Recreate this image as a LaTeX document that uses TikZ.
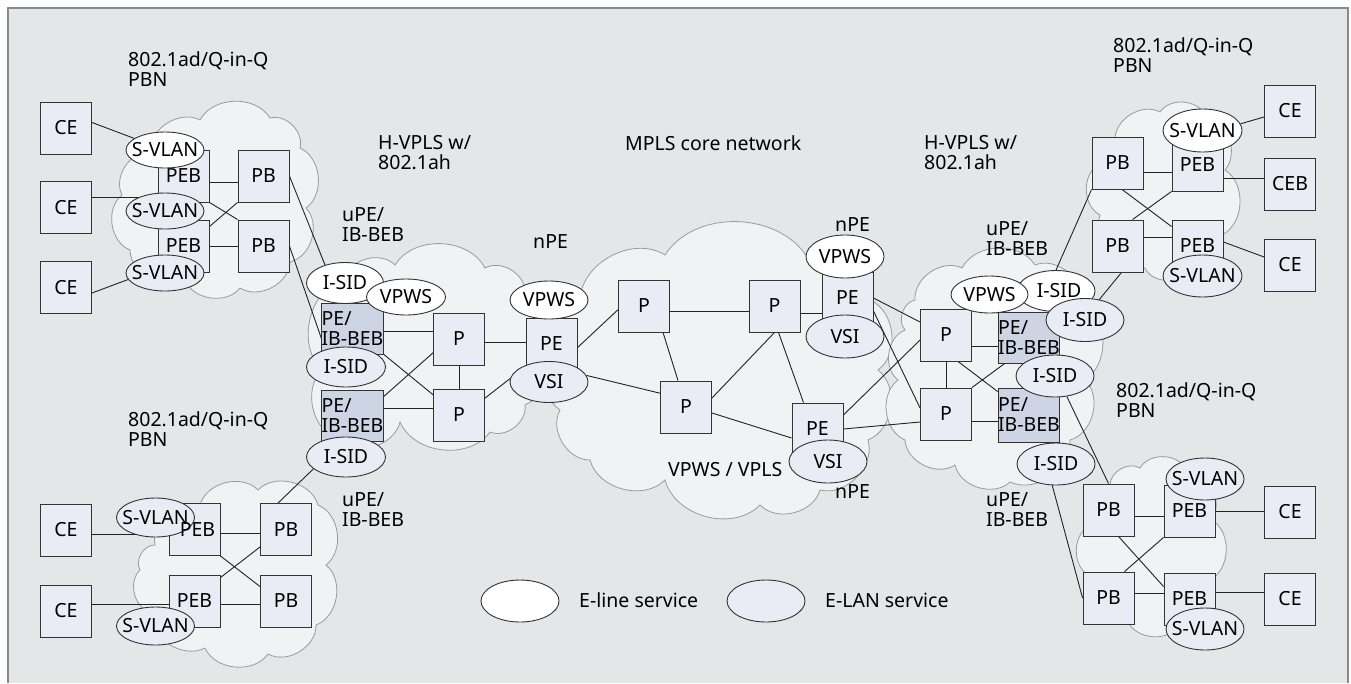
\documentclass[tikz,border=0pt]{standalone}
\usepackage{fontspec}
\setmainfont{Noto Sans}
\usetikzlibrary{shapes.geometric,calc}
\definecolor{bgc}{HTML}{E5E6E8}
\definecolor{cloudc}{HTML}{F1F2F4}
\definecolor{cloudedge}{HTML}{9A9A9A}
\definecolor{boxc}{HTML}{E9ECF4}
\definecolor{bebc}{HTML}{CDD5E4}
\definecolor{edgec}{HTML}{333333}
\definecolor{linec}{HTML}{222222}
\definecolor{framec}{HTML}{8A8A8A}
\pgfdeclarelayer{bg}
\pgfdeclarelayer{fg}
\pgfsetlayers{bg,main,fg}
\newcommand{\zw}[1]{\makebox[0pt]{#1}}
\begin{document}
\begin{tikzpicture}[x=1pt,y=-1pt,
  font=\fontsize{19.5}{20}\selectfont,
  box/.style={rectangle, draw=edgec, line width=0.9pt, fill=boxc, minimum width=51pt, minimum height=52pt, inner sep=0pt},
  beb/.style={box, fill=bebc, minimum width=61pt, minimum height=51pt, align=left},
  eline/.style={ellipse, draw=edgec, line width=0.9pt, fill=white, minimum width=78pt, minimum height=40pt, inner sep=0pt},
  elan/.style={eline, fill=boxc},
  lbl/.style={inner sep=0pt, anchor=west, align=left},
  conn/.style={draw=linec, line width=0.9pt},
  cloudsty/.style={fill=cloudc, draw=cloudedge, line width=0.8pt},
  puff/.style={bend left=60}]
\useasboundingbox (0,0) rectangle (1351,683);
\begin{pgfonlayer}{bg}
\fill[white] (0,0) rectangle (1351,683);
\fill[bgc] (8,8) rectangle (1348,683);
\draw[framec, line width=2pt] (8,683) -- (8,8) -- (1348,8) -- (1348,683);
% clouds
% left top PBN
\path[cloudsty] (150,152) to[puff] (200,120) to[puff] (270,118) to[puff] (300,148) to[puff] (306,208) to[puff] (290,262) to[puff] (240,288) to[puff] (185,280) to[puff] (130,250) to[puff] (122,195) to[puff] (150,152) -- cycle;
% left bottom PBN
\path[cloudsty] (155,545) to[puff] (200,505) to[puff] (258,490) to[puff] (318,505) to[puff] (326,565) to[puff] (316,625) to[puff] (268,654) to[puff] (205,648) to[puff] (150,612) to[puff] (140,570) to[puff] (155,545) -- cycle;
% right top PBN
\path[cloudsty] (1115,140) to[puff] (1160,112) to[puff] (1205,115) to[puff] (1225,170) to[puff] (1222,235) to[puff] (1185,272) to[puff] (1145,268) to[puff] (1100,215) to[puff] (1098,165) to[puff] (1115,140) -- cycle;
% right bottom PBN
\path[cloudsty] (1110,485) to[puff] (1140,468) to[puff] (1185,468) to[puff] (1212,520) to[puff] (1210,580) to[puff] (1180,625) to[puff] (1128,622) to[puff] (1088,575) to[puff] (1090,525) to[puff] (1110,485) -- cycle;
% left H-VPLS
\path[cloudsty] (345,278) to[puff] (395,265) to[puff] (485,268) to[puff] (525,292) to[puff] (532,348) to[puff] (525,405) to[puff] (490,432) to[puff] (400,422) to[puff] (340,440) to[puff] (322,370) to[puff] (345,278) -- cycle;
% core
\path[cloudsty] (580,300) to[puff] (665,255) to[puff] (810,262) to[puff] (870,300) to[puff] (878,370) to[puff] (868,440) to[puff] (820,490) to[puff] (760,505) to[puff] (665,480) to[puff] (590,460) to[puff] (560,410) to[puff] (565,340) to[puff] (580,300) -- cycle;
% right H-VPLS
\path[cloudsty] (915,300) to[puff] (962,268) to[puff] (1035,265) to[puff] (1080,300) to[puff] (1085,380) to[puff] (1070,440) to[puff] (1010,482) to[puff] (955,465) to[puff] (905,440) to[puff] (898,380) to[puff] (905,330) to[puff] (915,300) -- cycle;
\end{pgfonlayer}

% ---- left top PBN
\node[box] (ceA1) at (66,128) {CE};
\node[box] (ceA2) at (66,207.5) {CE};
\node[box] (ceA3) at (66,287.5) {CE};
\node[box] (pebA1) at (183.5,176) {PEB};
\node[box] (pebA2) at (183.5,246) {PEB};
\node[box] (pbA1) at (263.5,176) {PB};
\node[box] (pbA2) at (263.5,246) {PB};
\node[eline, minimum height=36pt] (svA1) at (165,150) {\zw{S-VLAN}};
\node[elan, minimum height=36pt] (svA2) at (165,211) {\zw{S-VLAN}};
\node[elan, minimum height=36pt] (svA3) at (165,273) {\zw{S-VLAN}};
% ---- left bottom PBN
\node[box] (ceB1) at (66,530) {CE};
\node[box] (ceB2) at (66,611) {CE};
\node[box] (pebB1) at (194.5,529.5) {};
\node[box] (pebB2) at (194.5,601) {PEB};
\node[box] (pbB1) at (286,529.5) {PB};
\node[box] (pbB2) at (286,601) {PB};
\node[elan, minimum height=39pt] (svB1) at (155.5,517.5) {\zw{S-VLAN}};
\node[elan, minimum height=38pt] (svB2) at (155.5,626) {\zw{S-VLAN}};
\begin{pgfonlayer}{fg}
\node[inner sep=0pt] (pebB1t) at ([xshift=3pt]pebB1.center) {PEB};
\end{pgfonlayer}
% ---- left H-VPLS
\node[beb] (peibL1) at (352.5,328.5) {PE/\\IB-BEB};
\node[beb] (peibL2) at (352.5,416) {PE/\\IB-BEB};
\node[box] (pL1) at (459,339) {P};
\node[box] (pL2) at (459,415) {P};
\node[box] (peL) at (551.5,344) {PE};
\node[eline, minimum height=41pt, minimum width=77pt] (isidL1) at (345,283) {\zw{I-SID}};
\node[eline, minimum height=36pt, minimum width=79pt] (vpwsL) at (406,297) {\zw{VPWS}};
\node[elan, minimum width=79pt] (isidL2) at (346,367) {\zw{I-SID}};
\node[elan, minimum width=79pt] (isidL3) at (346,457) {\zw{I-SID}};
\node[eline, minimum height=38pt] (vpwsM1) at (549,300) {\zw{VPWS}};
\node[elan, minimum height=41pt] (vsiM1) at (549,382) {\zw{VSI}};
% ---- core
\node[box] (pC1) at (644,306) {P};
\node[box] (pC3) at (774.5,306) {P};
\node[box] (pC2) at (686,407) {P};
\node[box] (peC1) at (847.5,298) {PE};
\node[box] (peC2) at (817.5,429) {PE};
\node[eline, minimum height=43pt] (vpwsC) at (845,256.5) {\zw{VPWS}};
\node[elan, minimum height=43pt] (vsiC1) at (845,336.5) {\zw{VSI}};
\node[elan, minimum height=43pt] (vsiC2) at (828,461.5) {\zw{VSI}};
% ---- right H-VPLS
\node[box] (pR1) at (946,335) {P};
\node[box] (pR2) at (946,414) {P};
\node[beb] (peibR1) at (1029,337.5) {PE/\\IB-BEB};
\node[beb, minimum height=54pt] (peibR2) at (1029,415) {PE/\\IB-BEB};
\node[eline, minimum height=41pt] (isidR1) at (1056,291) {\hspace*{6pt}\zw{I-SID}};
\node[eline, minimum width=77pt, minimum height=37pt] (vpwsR) at (989.5,294.5) {\zw{VPWS}};
\node[elan, minimum height=43pt] (isidR2) at (1085,320) {\zw{I-SID}};
\node[elan, minimum height=42pt] (isidR3) at (1055,376) {\zw{I-SID}};
\node[elan, minimum height=42pt] (isidR4) at (1056,464) {\zw{I-SID}};
% ---- right top PBN
\node[box] (ceRt1) at (1290,111) {CE};
\node[box] (ceb) at (1290,184) {CEB};
\node[box] (ceRt3) at (1290,265) {CE};
\node[box] (pbRt1) at (1117.5,163) {PB};
\node[box] (pbRt2) at (1117.5,246) {PB};
\node[box, minimum height=53pt] (pebRt1) at (1197.5,164.5) {PEB};
\node[box] (pebRt2) at (1197.5,246) {PEB};
\node[eline, minimum width=79pt, minimum height=43pt] (svRt1) at (1202.5,130.5) {\zw{S-VLAN}};
\node[elan, minimum width=79pt, minimum height=42pt] (svRt2) at (1202.5,276) {\zw{S-VLAN}};
% ---- right bottom PBN
\node[box] (pbRb1) at (1108.5,510) {PB};
\node[box] (pbRb2) at (1108.5,598) {PB};
\node[box] (pebRb1) at (1189.5,511) {PEB};
\node[box] (pebRb2) at (1189.5,599) {PEB};
\node[box] (ceRb1) at (1290,512) {CE};
\node[box] (ceRb2) at (1290,599) {CE};
\node[elan, minimum height=42pt] (svRb1) at (1205,479) {\zw{S-VLAN}};
\node[elan, minimum height=42pt] (svRb2) at (1205,629) {\zw{S-VLAN}};
% ---- legend
\node[eline, minimum height=42pt] (legL) at (520,601) {};
\node[lbl] (legLt) at (579,600) {E-line service};
\node[elan, minimum height=42pt] (legE) at (766,601) {};
\node[lbl] (legEt) at (825,600) {E-LAN service};
% ---- labels
\node[lbl] (t1) at (128,69.5) {802.1ad/Q-in-Q\\PBN};
\node[lbl] (t2) at (378,153) {H-VPLS w/\\802.1ah};
\node[lbl] (t3) at (625,143) {MPLS core network};
\node[lbl] (t4) at (342,225) {uPE/\\IB-BEB};
\node[lbl] (t5) at (533,242) {nPE};
\node[lbl] (t6) at (128,429) {802.1ad/Q-in-Q\\PBN};
\node[lbl] (t7) at (342,510) {uPE/\\IB-BEB};
\node[lbl] (t8) at (668,470) {VPWS / VPLS};
\node[lbl] (t9) at (835,225) {nPE};
\node[lbl] (t10) at (835,492) {nPE};
\node[lbl] (t11) at (924,153) {H-VPLS w/\\802.1ah};
\node[lbl] (t12) at (986,238.5) {uPE/\\IB-BEB};
\node[lbl] (t13) at (1113,55) {802.1ad/Q-in-Q\\PBN};
\node[lbl] (t14) at (1116,400) {802.1ad/Q-in-Q\\PBN};
\node[lbl] (t15) at (986,510) {uPE/\\IB-BEB};

\begin{pgfonlayer}{bg}
% left top
\draw[conn] (ceA1.12) -- (svA1);
\draw[conn] (ceA2.22) -- (ceA2.22 -| svA2.center);
\draw[conn] (ceA3.-12) -- (svA3.190);
\draw[conn] ([yshift=-6pt]pebA1.east) -- ([yshift=-6pt]pbA1.west);
\draw[conn] (pebA2) -- (pbA2);
\draw[conn] (pebA1.south east) -- (pbA2.north west);
\draw[conn] ([yshift=-7pt]pebA2.north east) -- (pbA1.south west);
\draw[conn] (pbA1.east) -- (isidL1.138);
\draw[conn] (pbA2.east) -- (isidL2.140);
% left bottom
\draw[conn] ([yshift=-4pt]ceB1.east) -- ([yshift=-4pt]ceB1.east -| pebB1.west);
\draw[conn] ([yshift=7pt]ceB2.east) -- ([yshift=7pt]ceB2.east -| pebB2.west);
\draw[conn] ([yshift=-3.5pt]pebB1.east) -- ([yshift=-3.5pt]pebB1.east -| pbB1.west);
\draw[conn] ([yshift=-3pt]pebB2.east) -- ([yshift=-3pt]pebB2.east -| pbB2.west);
\draw[conn] (pebB1.south east) -- ([yshift=-12pt]pbB2.north west);
\draw[conn] ([yshift=-3pt]pebB2.north east) -- ([yshift=9pt]pbB1.south west);
\draw[conn] ([xshift=-8pt]pbB1.north) -- (isidL3.-160);
% left H-VPLS
\draw[conn] ([yshift=-2.5pt]peibL1.east) -- ([yshift=-2.5pt]peibL1.east -| pL1.west);
\draw[conn] (peibL1.south east) -- (pL2.142);
\draw[conn] (peibL2.32) -- (pL1.208);
\draw[conn] ([yshift=8pt]peibL2.east) -- ([yshift=8pt]peibL2.east -| pL2.west);
\draw[conn] (pL1) -- (pL2);
\draw[conn] ([yshift=-3pt]pL1.east) -- ([yshift=-3pt]pL1.east -| peL.west);
\draw[conn] (pL2.33) -- (vsiM1.175);
\draw[conn] (peL.-8) -- (pC1.188);
\draw[conn] (vsiM1.10) -- (pC2.152);
% core
\draw[conn] ([yshift=-5pt]pC1.east) -- ([yshift=-5pt]pC1.east -| pC3.west);
\draw[conn] ([yshift=-7pt]pC3.east) -- ([yshift=-7pt]pC3.east -| peC1.west);
\draw[conn] ([xshift=19pt]pC1.south) -- ([xshift=-8pt]pC2.north);
\draw[conn] (pC2.19) -- (pC3.south);
\draw[conn] ([xshift=4pt]pC3.south) -- ([xshift=-14pt]peC2.north);
\draw[conn] ([yshift=-6pt]pC2.east) -- ([yshift=-9pt]peC2.west);
\draw[conn] (peC1.east) -- ([yshift=13pt]pR1.west);
\draw[conn] ([yshift=-13pt]peC1.east) -- ([yshift=6pt]pR2.west);
\draw[conn] ([yshift=14pt]peC2.east) -- ([yshift=-5pt]pR1.west);
\draw[conn] (peC2.east) -- ([yshift=-8pt]pR2.west);
% right H-VPLS
\draw[conn] (pR1) -- (pR2);
\draw[conn] ([yshift=-11pt]pR1.east) -- ([yshift=-11pt]pR1.east -| peibR1.west);
\draw[conn] ([yshift=-7pt]pR2.east) -- ([yshift=-7pt]pR2.east -| peibR2.west);
\draw[conn] ([xshift=12pt]pR1.south) -- ([yshift=-4pt]peibR2.north west);
\draw[conn] (pR2.north east) -- ([xshift=7pt]peibR1.south west);
\draw[conn] (isidR1.north) -- (pbRt1.south west);
\draw[conn] (isidR2.55) -- ([xshift=4pt]pbRt2.south);
\draw[conn] (isidR3.-60) -- (pbRb1.north);
\draw[conn] (isidR4.-100) -- (pbRb2.west);
% right top
\draw[conn] (svRt1.10) -- ([yshift=-6pt]ceRt1.west);
\draw[conn] ([yshift=-9pt]pbRt1.east) -- ([yshift=-9pt]pbRt1.east -| pebRt1.west);
\draw[conn] ([yshift=-13.5pt]pebRt1.east) -- ([yshift=-13.5pt]pebRt1.east -| ceb.west);
\draw[conn] ([yshift=9pt]pbRt2.east) -- ([yshift=9pt]pbRt2.east -| pebRt2.west);
\draw[conn] ([yshift=4pt]pebRt2.east) -- ([yshift=8pt]ceRt3.west);
\draw[conn] ([xshift=4.5pt]pbRt1.south) -- ([yshift=-7pt]pebRt2.north west);
\draw[conn] ([xshift=15pt]pbRt2.north) -- (pebRt1.south west);
% right bottom
\draw[conn] ([yshift=-6pt]pbRb1.east) -- ([yshift=-6pt]pbRb1.east -| pebRb1.west);
\draw[conn] ([yshift=5pt]pbRb2.east) -- ([yshift=5pt]pbRb2.east -| pebRb2.west);
\draw[conn] ([xshift=10pt]pbRb1.south) -- ([yshift=-14pt]pebRb2.north west);
\draw[conn] ([xshift=16pt]pbRb2.north) -- (pebRb1.south west);
\draw[conn] (pebRb1.east) -- (pebRb1.east -| ceRb1.west);
\draw[conn] ([yshift=7pt]pebRb2.east) -- ([yshift=7pt]pebRb2.east -| ceRb2.west);
\end{pgfonlayer}
\end{tikzpicture}
\end{document}
